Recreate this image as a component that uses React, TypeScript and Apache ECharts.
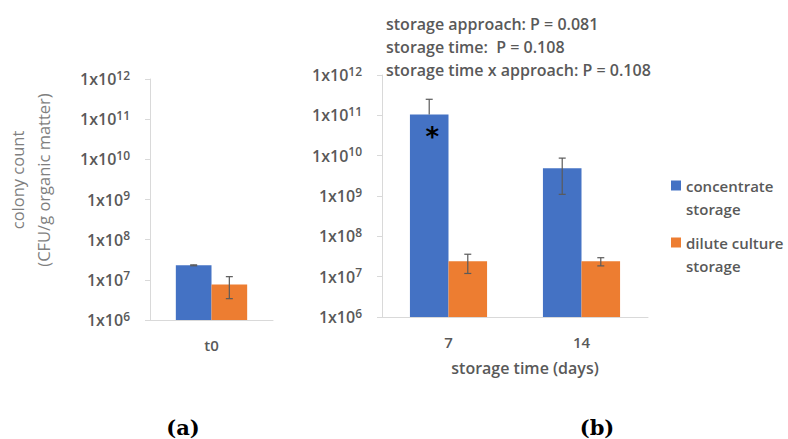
import React, { useEffect, useRef } from 'react';
import * as echarts from 'echarts';

const seriesNames = ['concentrate storage', 'dilute culture storage'];
const legendLabels = ['concentrate\nstorage', 'dilute culture\nstorage'];
const seriesColors = ['#4472C4', '#ED7D31'];

const leftCategories = ['t0'];
const leftConcentrate = [2.3e7];
const leftConcentrateErr = [0.06e7];
const leftDilute = [7.7e6];
const leftDiluteErr = [4.3e6];

const rightCategories = ['7', '14'];
const rightConcentrate = [1.05e11, 4.9e9];
const rightConcentrateErr = [1.45e11, 3.8e9];
const rightConcentrateSignificant = [true, false];
const rightDilute = [2.4e7, 2.4e7];
const rightDiluteErr = [1.2e7, 0.55e7];

const statsLines = [
  'storage approach: P = 0.081',
  'storage time:  P = 0.108',
  'storage time x approach: P = 0.108',
];
const yAxisTitle = ['colony count', '(CFU/g organic matter)'];
const xAxisTitleRight = 'storage time (days)';
const panelLabels = ['(a)', '(b)'];

const Y_MIN = 1e6;
const Y_MAX = 1e12;
const CAT_GAP = 0.42;
const FONT = '"Open Sans", Lato, sans-serif';
const TEXT = '#595959';
const AXIS = '#D9D9D9';
const FS = 15;
const FW = 600;

function errData(values: number[], errs: number[], which: number) {
  return values.map((v, i) => {
    const low = v - errs[i];
    const high = v + errs[i];
    return [i, which, v, low > Y_MIN ? low : null, high];
  });
}

function errorSeries(axisIndex: number, data: any[]) {
  return {
    type: 'custom',
    xAxisIndex: axisIndex,
    yAxisIndex: axisIndex,
    z: 10,
    silent: true,
    encode: { x: 0, y: 2 },
    data,
    renderItem: (params: any, api: any) => {
      const cat = api.value(0);
      const which = api.value(1);
      const mean = api.value(2);
      const low = api.value(3);
      const high = api.value(4);
      const band = api.size([1, 1], [cat, mean])[0];
      const barW = (band * (1 - CAT_GAP)) / 2;
      const cx = api.coord([cat, mean])[0] + (which === 0 ? -barW / 2 : barW / 2);
      const yMean = api.coord([cat, mean])[1];
      const yHigh = api.coord([cat, high])[1];
      const hasLow = low != null && !isNaN(low);
      const yLow = hasLow ? api.coord([cat, low])[1] : yMean;
      const cap = 3.5;
      const style = { stroke: '#5A5A5A', lineWidth: 1.2 };
      const children: any[] = [
        { type: 'line', shape: { x1: cx, y1: yHigh, x2: cx, y2: yLow }, style },
        { type: 'line', shape: { x1: cx - cap, y1: yHigh, x2: cx + cap, y2: yHigh }, style },
      ];
      if (hasLow) {
        children.push({ type: 'line', shape: { x1: cx - cap, y1: yLow, x2: cx + cap, y2: yLow }, style });
      }
      return { type: 'group', children };
    },
  };
}

function yAxisCfg(gridIndex: number) {
  return {
    type: 'log',
    gridIndex,
    logBase: 10,
    min: Y_MIN,
    max: Y_MAX,
    splitNumber: 6,
    axisLine: { show: true, lineStyle: { color: AXIS } },
    axisTick: { show: true, length: 5, lineStyle: { color: AXIS } },
    splitLine: { show: false },
    axisLabel: {
      margin: 20,
      formatter: (v: number) => `{b|1x10}{s|${Math.round(Math.log10(v))}}`,
      rich: {
        b: { fontSize: 16, fontWeight: FW, color: TEXT, fontFamily: FONT, lineHeight: 20 },
        s: { fontSize: 12, fontWeight: FW, color: TEXT, fontFamily: FONT, lineHeight: 14, verticalAlign: 'top' },
      },
    },
  };
}

function xAxisCfg(gridIndex: number, data: string[], name?: string) {
  return {
    type: 'category',
    gridIndex,
    data,
    axisLine: { lineStyle: { color: AXIS } },
    axisTick: { show: false },
    axisLabel: { margin: 17, fontSize: FS, fontWeight: FW, color: TEXT, fontFamily: FONT },
    name: name || '',
    nameLocation: 'middle',
    nameGap: 43,
    nameTextStyle: { fontSize: 16, fontWeight: FW, color: TEXT, fontFamily: FONT, padding: [0, 0, 0, 20] },
  };
}

export default function App() {
  const ref = useRef<HTMLDivElement>(null);
  useEffect(() => {
    if (!ref.current) return;
    const chart = echarts.init(ref.current, undefined, { renderer: 'svg' });
    const barCommon = { type: 'bar', barGap: '0%', barCategoryGap: `${CAT_GAP * 100}%` };
    const option: any = {
      animation: false,
      backgroundColor: '#fff',
      textStyle: { fontFamily: FONT },
      color: seriesColors,
      title: {
        text: statsLines.join('\n'),
        left: 381,
        top: 7,
        textStyle: { fontSize: 16, fontWeight: FW, color: TEXT, fontFamily: FONT, lineHeight: 23 },
      },
      legend: {
        data: seriesNames,
        orient: 'vertical',
        left: 666,
        top: 146,
        itemWidth: 10,
        itemHeight: 10,
        itemGap: -12,
        icon: 'rect',
        formatter: (n: string) => '\n' + legendLabels[seriesNames.indexOf(n)],
        textStyle: { fontSize: FS, fontWeight: FW, color: TEXT, fontFamily: FONT, lineHeight: 23 },
      },
      grid: [
        { left: 150, top: 79, width: 123, height: 241 },
        { left: 382, top: 75, width: 266, height: 242 },
      ],
      xAxis: [xAxisCfg(0, leftCategories), xAxisCfg(1, rightCategories, xAxisTitleRight)],
      yAxis: [yAxisCfg(0), yAxisCfg(1)],
      graphic: [
        {
          type: 'text',
          x: 30,
          y: 180,
          rotation: Math.PI / 2,
          style: {
            text: yAxisTitle.join('\n'),
            fontSize: 16.5,
            fontFamily: FONT,
            fill: '#7F7F7F',
            align: 'center',
            verticalAlign: 'middle',
            lineHeight: 26,
          },
        },
        {
          type: 'text',
          x: 183,
          y: 427,
          style: { text: panelLabels[0], fontSize: 21, fontWeight: 'bold', fontFamily: '"DejaVu Serif", serif', fill: '#000', align: 'center', verticalAlign: 'middle' },
        },
        {
          type: 'text',
          x: 597,
          y: 427,
          style: { text: panelLabels[1], fontSize: 21, fontWeight: 'bold', fontFamily: '"DejaVu Serif", serif', fill: '#000', align: 'center', verticalAlign: 'middle' },
        },
      ],
      series: [
        { ...barCommon, name: seriesNames[0], xAxisIndex: 0, yAxisIndex: 0, data: leftConcentrate, itemStyle: { color: seriesColors[0] } },
        { ...barCommon, name: seriesNames[1], xAxisIndex: 0, yAxisIndex: 0, data: leftDilute, itemStyle: { color: seriesColors[1] } },
        {
          ...barCommon,
          name: seriesNames[0],
          xAxisIndex: 1,
          yAxisIndex: 1,
          itemStyle: { color: seriesColors[0] },
          data: rightConcentrate.map((v, i) =>
            rightConcentrateSignificant[i]
              ? {
                  value: v,
                  label: {
                    show: true,
                    position: 'insideTop',
                    distance: 10,
                    offset: [3, 0],
                    formatter: '*',
                    fontSize: 26,
                    fontWeight: 'bold',
                    color: '#000',
                    fontFamily: '"DejaVu Sans", sans-serif',
                  },
                }
              : v
          ),
        },
        { ...barCommon, name: seriesNames[1], xAxisIndex: 1, yAxisIndex: 1, data: rightDilute, itemStyle: { color: seriesColors[1] } },
        errorSeries(0, [...errData(leftConcentrate, leftConcentrateErr, 0), ...errData(leftDilute, leftDiluteErr, 1)]),
        errorSeries(1, [...errData(rightConcentrate, rightConcentrateErr, 0), ...errData(rightDilute, rightDiluteErr, 1)]),
      ],
    };
    chart.setOption(option);
    return () => chart.dispose();
  }, []);
  return <div ref={ref} style={{ position: 'fixed', left: 0, top: 0, width: 788, height: 439 }} />;
}
